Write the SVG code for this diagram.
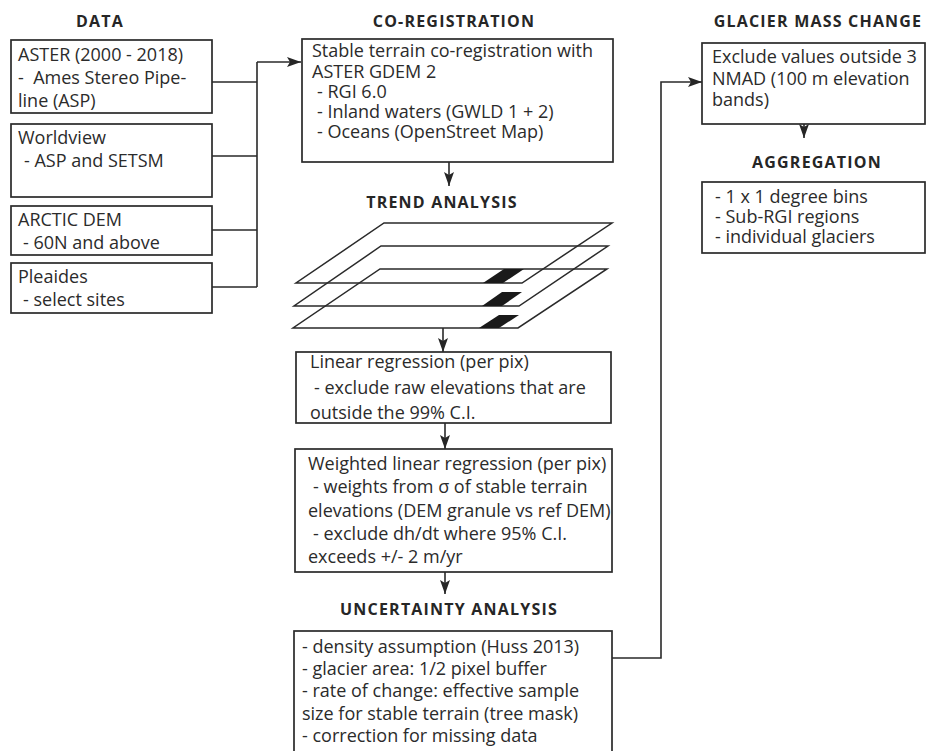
<svg xmlns="http://www.w3.org/2000/svg" width="928" height="751" viewBox="0 0 928 751">
<defs>
<marker id="ah" viewBox="0 0 14 10" refX="14" refY="5" markerWidth="14" markerHeight="10" markerUnits="userSpaceOnUse" orient="auto">
<path d="M0,0 L14,5 L0,10 L3,5 Z" fill="#262626"/>
</marker>
<style>
.box{fill:#fff;stroke:#2a2a2a;stroke-width:1.7}
.t{font-family:"Open Sans","Noto Sans",sans-serif;font-size:18px;fill:#2b2b2b;white-space:pre}
.h{font-family:"Open Sans","Noto Sans",sans-serif;font-size:16px;font-weight:700;fill:#262626;letter-spacing:1.2px;text-anchor:middle}
.c{fill:none;stroke:#2a2a2a;stroke-width:1.6}
.pl{fill:none;stroke:#2a2a2a;stroke-width:1.5;stroke-linejoin:miter}
.st{fill:#1a1a1a;stroke:none}
</style>
</defs>
<rect width="928" height="751" fill="#fff"/>

<g id="titles">
<text class="h" x="100" y="27">DATA</text>
<text class="h" x="454" y="27">CO-REGISTRATION</text>
<text class="h" x="818" y="27">GLACIER MASS CHANGE</text>
<text class="h" x="442" y="208">TREND ANALYSIS</text>
<text class="h" x="817" y="168">AGGREGATION</text>
<text class="h" x="449" y="615">UNCERTAINTY ANALYSIS</text>
</g>

<g id="connectors">
<path class="c" d="M212,82 H257 M212,156 H257 M212,230 H257 M212,287 H257 M257,287 V62"/>
<path class="c" d="M257,62 H301" marker-end="url(#ah)"/>
<path class="c" d="M449,162 V186" marker-end="url(#ah)"/>
<path class="c" d="M443,328 V352" marker-end="url(#ah)"/>
<path class="c" d="M445,423 V449" marker-end="url(#ah)"/>
<path class="c" d="M445,572 V594" marker-end="url(#ah)"/>
<path class="c" d="M612,658 H661 V82 H702" marker-end="url(#ah)"/>
<path class="c" d="M804,124 V138" marker-end="url(#ah)"/>
</g>

<g id="aster">
<rect class="box" x="11" y="40" width="201" height="73"/>
<text class="t" x="18" y="61">ASTER (2000 - 2018)</text>
<text class="t" x="18" y="84">-  Ames Stereo Pipe-</text>
<text class="t" x="18" y="107">line (ASP)</text>
</g>
<g id="worldview">
<rect class="box" x="11" y="124" width="201" height="73"/>
<text class="t" x="18" y="144">Worldview</text>
<text class="t" x="24" y="167">- ASP and SETSM</text>
</g>
<g id="arcticdem">
<rect class="box" x="11" y="206" width="201" height="49"/>
<text class="t" x="18" y="226">ARCTIC DEM</text>
<text class="t" x="23" y="249">- 60N and above</text>
</g>
<g id="pleiades">
<rect class="box" x="11" y="263" width="201" height="50"/>
<text class="t" x="18" y="283">Pleaides</text>
<text class="t" x="23" y="306">- select sites</text>
</g>

<g id="coregistration">
<rect class="box" x="302" y="39" width="311" height="123"/>
<text class="t" x="312" y="57">Stable terrain co-registration with</text>
<text class="t" x="312" y="78">ASTER GDEM 2</text>
<text class="t" x="317" y="98">- RGI 6.0</text>
<text class="t" x="317" y="118">- Inland waters (GWLD 1 + 2)</text>
<text class="t" x="317" y="138">- Oceans (OpenStreet Map)</text>
</g>

<g id="trend-planes">
<path class="pl" d="M384,223 H612 L522,283 H296 Z"/>
<path class="pl" d="M381,246 H608 L519,306 H294 Z"/>
<path class="pl" d="M380,269 H607 L518,328 H293 Z"/>
<path class="st" d="M483,283 H503 L524,269 H504 Z"/>
<path class="st" d="M482,306 H502 L522,292 H502 Z"/>
<path class="st" d="M479,328 H499 L519,315 H499 Z"/>
</g>

<g id="linear-regression">
<rect class="box" x="296" y="352" width="315" height="71"/>
<text class="t" x="310" y="368">Linear regression (per pix)</text>
<text class="t" x="314" y="394">- exclude raw elevations that are</text>
<text class="t" x="310" y="419">outside the 99% C.I.</text>
</g>

<g id="weighted-regression">
<rect class="box" x="295" y="449" width="317" height="123"/>
<text class="t" x="308" y="470">Weighted linear regression (per pix)</text>
<text class="t" x="313" y="493">- weights from σ of stable terrain</text>
<text class="t" x="308" y="516.5">elevations (DEM granule vs ref DEM)</text>
<text class="t" x="313" y="540">- exclude dh/dt where 95% C.I.</text>
<text class="t" x="308" y="563">exceeds +/- 2 m/yr</text>
</g>

<g id="uncertainty">
<rect class="box" x="294" y="631" width="318" height="135"/>
<text class="t" x="302" y="652.5">- density assumption (Huss 2013)</text>
<text class="t" x="302" y="674.5">- glacier area: 1/2 pixel buffer</text>
<text class="t" x="302" y="697">- rate of change: effective sample</text>
<text class="t" x="302" y="719.5">size for stable terrain (tree mask)</text>
<text class="t" x="302" y="742">- correction for missing data</text>
</g>

<g id="glacier-mass-change">
<rect class="box" x="702" y="43" width="223" height="81"/>
<text class="t" x="712" y="63">Exclude values outside 3</text>
<text class="t" x="712" y="85">NMAD (100 m elevation</text>
<text class="t" x="712" y="106">bands)</text>
</g>

<g id="aggregation">
<rect class="box" x="702" y="182" width="223" height="71"/>
<text class="t" x="715" y="203">- 1 x 1 degree bins</text>
<text class="t" x="715" y="223">- Sub-RGI regions</text>
<text class="t" x="715" y="243">- individual glaciers</text>
</g>
</svg>
